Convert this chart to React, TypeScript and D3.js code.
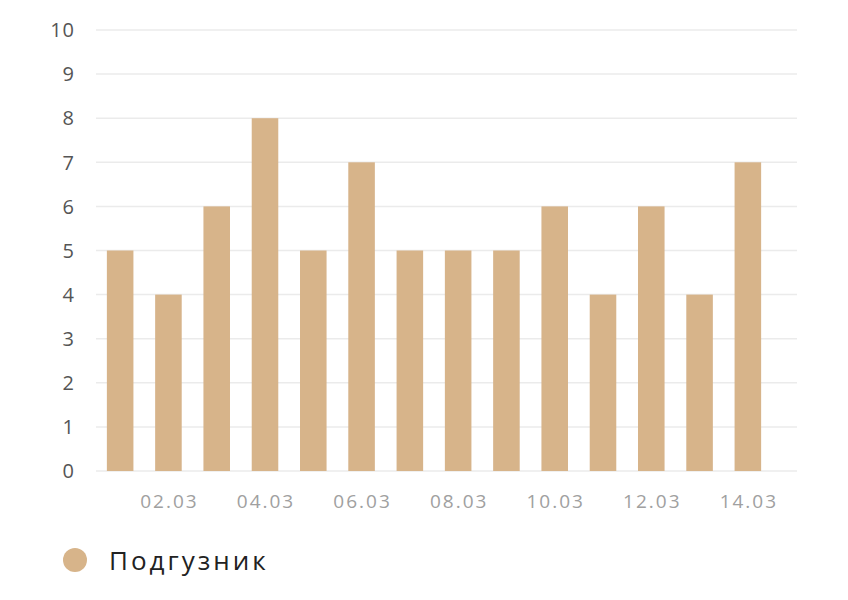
import React from "react";
import * as d3 from "d3";

const categories = ["01.03","02.03","03.03","04.03","05.03","06.03","07.03","08.03","09.03","10.03","11.03","12.03","13.03","14.03"];
const values = [5,4,6,8,5,7,5,5,5,6,4,6,4,7];
const yTicks = [0,1,2,3,4,5,6,7,8,9,10];
const seriesName = "Подгузник";

const W = 848, H = 600;
const FONT = "'Open Sans', 'Noto Sans', sans-serif";
const BAR = "#D7B48A";

export default function App() {
  const x = d3.scaleBand<string>().domain(categories).range([96, 772]).paddingInner(0.45).paddingOuter(0.225);
  const y = d3.scaleLinear().domain([0, 10]).range([471, 30]);
  return (
    <svg width={W} height={H} style={{ position: "absolute", left: 0, top: 0, background: "#fff" }}>
      {yTicks.map(t => (
        <g key={t}>
          <line x1={96} x2={797} y1={y(t)} y2={y(t)} stroke="#ebebeb" strokeWidth={1.5} />
          <text x={75} y={y(t)} dy="0.36em" textAnchor="end" fontFamily={FONT} fontSize={20} fill="#555" letterSpacing={1}>{t}</text>
        </g>
      ))}
      {categories.map((c, i) => (
        <rect key={c} x={x(c)} y={y(values[i])} width={x.bandwidth()} height={y(0) - y(values[i])} fill={BAR} />
      ))}
      {categories.map((c, i) => i % 2 === 1 ? (
        <text key={c} x={(x(c) as number) + x.bandwidth() / 2 + 1} y={508} textAnchor="middle" fontFamily={FONT} fontSize={19} fill="#a0a0a0" letterSpacing={2}>{c}</text>
      ) : null)}
      <circle cx={75} cy={560} r={12} fill={BAR} />
      <text x={109} y={570} fontFamily={FONT} fontSize={26} fill="#222" letterSpacing={3}>{seriesName}</text>
    </svg>
  );
}
